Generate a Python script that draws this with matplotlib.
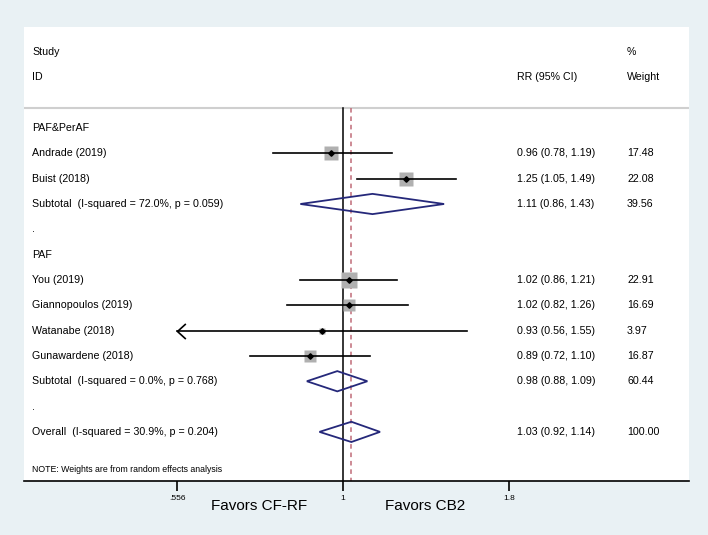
import numpy as np
import matplotlib.pyplot as plt
from matplotlib.path import Path

plt.rcParams['font.family'] = ['Liberation Sans', 'DejaVu Sans']

# study rows (None = no estimate on that row)
labels = ['PAF&PerAF', 'Andrade (2019)', 'Buist (2018)',
          'Subtotal  (I-squared = 72.0%, p = 0.059)', '.',
          'PAF', 'You (2019)', 'Giannopoulos (2019)', 'Watanabe (2018)',
          'Gunawardene (2018)', 'Subtotal  (I-squared = 0.0%, p = 0.768)', '.',
          'Overall  (I-squared = 30.9%, p = 0.204)']
kind = ['head', 'study', 'study', 'sub', 'dot',
        'head', 'study', 'study', 'study', 'study', 'sub', 'dot', 'sub']
rr = [None, 0.96, 1.25, 1.11, None, None, 1.02, 1.02, 0.93, 0.89, 0.98, None, 1.03]
lo = [None, 0.78, 1.05, 0.86, None, None, 0.86, 0.82, 0.56, 0.72, 0.88, None, 0.92]
hi = [None, 1.19, 1.49, 1.43, None, None, 1.21, 1.26, 1.55, 1.10, 1.09, None, 1.14]
weight = [None, 17.48, 22.08, 39.56, None, None, 22.91, 16.69, 3.97, 16.87, 60.44, None, 100.00]

xticks = [0.556, 1, 1.8]
xticklabels = ['.556', '1', '1.8']
xmin = 0.556
overall = 1.03

W, H = 708, 535
fig = plt.figure(figsize=(W / 100, H / 100), dpi=100, facecolor='#e9f1f4')
ax = fig.add_axes([24 / W, 1 - 481 / H, 665 / W, 454 / H])
ax.set_facecolor('white')

# scale: 1 at pixel 343, 282.6 px per ln unit
ppl = 282.6
ax.set_xscale('log')
ax.set_xlim(np.exp((24 - 343) / ppl), np.exp((689 - 343) / ppl))
ax.set_ylim(13.94, -3.99)

xt = ax.get_yaxis_transform()  # x axes-fraction, y data
fs = 7.7

def fx(px):
    return (px - 24) / 665

ax.text(fx(32), -3, 'Study', transform=xt, fontsize=fs, va='center')
ax.text(fx(32), -2, 'ID', transform=xt, fontsize=fs, va='center')
ax.text(fx(517), -2, 'RR (95% CI)', transform=xt, fontsize=fs, va='center')
ax.text(fx(627), -3, '%', transform=xt, fontsize=fs, va='center')
ax.text(fx(627), -2, 'Weight', transform=xt, fontsize=fs, va='center')
ax.axhline(-0.8, color='#cfcfcf', lw=1.5)

ax.plot([1, 1], [-0.8, 13.94], color='black', lw=1.1, zorder=2)
ax.plot([overall, overall], [-0.8, 13.94], color='#c06b78', lw=1.1,
        ls=(0, (3, 2.5)), zorder=2)

# open chevron with its tip at the marker position
chevron = Path([(1.1, 1), (0, 0), (1.1, -1)], [Path.MOVETO, Path.LINETO, Path.LINETO])

for i, lab in enumerate(labels):
    ax.text(fx(32), i, lab, transform=xt, fontsize=fs, va='center')
    if rr[i] is None:
        continue
    ax.text(fx(517), i, '%.2f (%.2f, %.2f)' % (rr[i], lo[i], hi[i]),
            transform=xt, fontsize=fs, va='center')
    ax.text(fx(627), i, '%.2f' % weight[i], transform=xt, fontsize=fs, va='center')
    if kind[i] == 'study':
        side = 3.15 * np.sqrt(weight[i]) * 0.72
        ax.plot(rr[i], i, marker='s', ms=side, color='#b0b0b0', mec='none', zorder=3)
        # CI past the axis minimum (rounded) is cut and drawn as an arrow
        clipped = lo[i] <= round(xmin, 2)
        left = xmin if clipped else lo[i]
        ax.plot([left, hi[i]], [i, i], color='black', lw=1.2, zorder=4)
        if clipped:
            ax.plot(xmin, i, marker=chevron, ms=12, mfc='none', mec='black',
                    mew=1.2, zorder=4)
        ax.plot(rr[i], i, marker='D', ms=2.8, color='black', zorder=5)
    else:
        ax.fill([lo[i], rr[i], hi[i], rr[i], lo[i]],
                [i, i - 0.4, i, i + 0.4, i], facecolor='none',
                edgecolor='#25287a', lw=1.3, zorder=4)

ax.text(fx(32), 13.5, 'NOTE: Weights are from random effects analysis',
        transform=xt, fontsize=6.3, va='center')

for s in ['top', 'left', 'right']:
    ax.spines[s].set_visible(False)
ax.spines['bottom'].set_linewidth(1.2)
ax.set_yticks([])
ax.set_xticks(xticks)
ax.set_xticklabels(xticklabels, fontsize=6)
ax.minorticks_off()
ax.tick_params(axis='x', direction='out', length=7, width=1.2, pad=3)

ax.text(fx(259), -0.04, 'Favors CF-RF', transform=ax.transAxes,
        fontsize=11, ha='center', va='top')
ax.text(fx(425), -0.04, 'Favors CB2', transform=ax.transAxes,
        fontsize=11, ha='center', va='top')

fig.savefig('out.png', dpi=100, facecolor=fig.get_facecolor())
